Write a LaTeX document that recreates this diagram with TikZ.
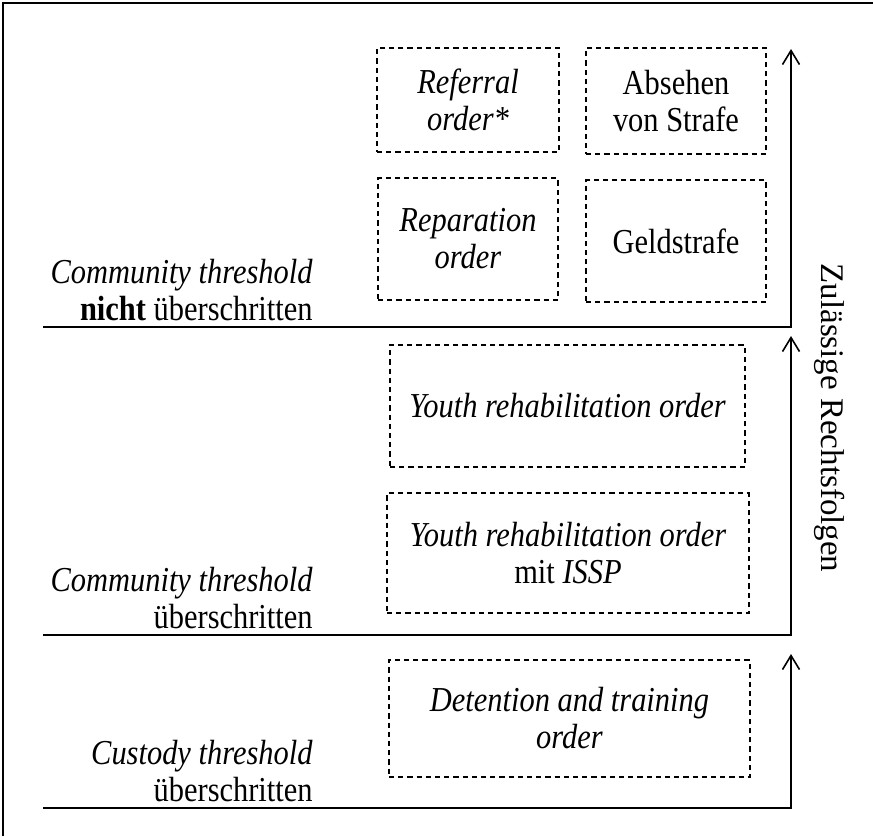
\documentclass[tikz,border=0pt]{standalone}
\usepackage{fontspec}
\setmainfont{Liberation Serif}[FakeStretch=0.87]
\newfontfamily\axisfont{Liberation Serif}
\usetikzlibrary{arrows.meta}
\tikzset{
  order/.style={draw,dash pattern=on 2.6pt off 2pt,line width=0.6pt,align=center,inner sep=0pt},
  level/.style={anchor=south east,align=right,inner sep=0pt},
  scaleline/.style={line width=1pt,-{Straight Barb[length=7pt,width=8.5pt,line width=0.8pt]}}
}
\begin{document}
\begin{tikzpicture}
    [x=0.5pt,y=-0.5pt, every node/.style={font=\fontsize{17.5pt}{18.5pt}\selectfont}]
    \useasboundingbox (0,0) rectangle (873,836);
    \draw[line width=0.8pt] (3,836) -- (3,3) -- (873,3);

    % boxes, top level
    \node [order,minimum width=91pt,minimum height=52pt] (referral) at (468,100) {\textit{Referral}\\\textit{order*}};
    \node [order,minimum width=90pt,minimum height=53pt] (absehen) at (676,101) {Absehen\\von Strafe};
    \node [order,minimum width=90pt,minimum height=61pt] (reparation) at (468,239) {\textit{Reparation}\\\textit{order}};
    \node [order,minimum width=90pt,minimum height=61pt] (geld) at (676,241) {Geldstrafe};
    % middle level
    \node [order,minimum width=177.5pt,minimum height=61pt] (yro) at (567.5,406) {\textit{Youth rehabilitation order}};
    \node [order,minimum width=181pt,minimum height=60pt] (issp) at (568,553) {\textit{Youth rehabilitation order}\\mit \textit{ISSP}};
    % bottom level
    \node [order,minimum width=180.5pt,minimum height=58.5pt] (dto) at (569.5,718.5) {\textit{Detention and training}\\\textit{order}};

    % thresholds
    \coordinate (l1) at (43,327); \coordinate (r1) at (791,327); \coordinate (t1) at (791,49);
    \coordinate (l2) at (43,635); \coordinate (r2) at (791,635); \coordinate (t2) at (791,336);
    \coordinate (l3) at (43,808); \coordinate (r3) at (791,808); \coordinate (t3) at (791,654);
    \draw [scaleline] (l1) -- (r1) -- (t1);
    \draw [scaleline] (l2) -- (r2) -- (t2);
    \draw [scaleline] (l3) -- (r3) -- (t3);

    \node [level] (nicht) at (313,321) {\textit{Community threshold}\\\textbf{nicht} überschritten};
    \node [level] (community) at (313,629) {\textit{Community threshold}\\überschritten};
    \node [level] (custody) at (313,802) {\textit{Custody threshold}\\überschritten};

    \node [rotate=-90,font=\axisfont\fontsize{16.5pt}{18.5pt}\selectfont] (folgen) at (830,418) {Zulässige Rechtsfolgen};
\end{tikzpicture}
\end{document}
